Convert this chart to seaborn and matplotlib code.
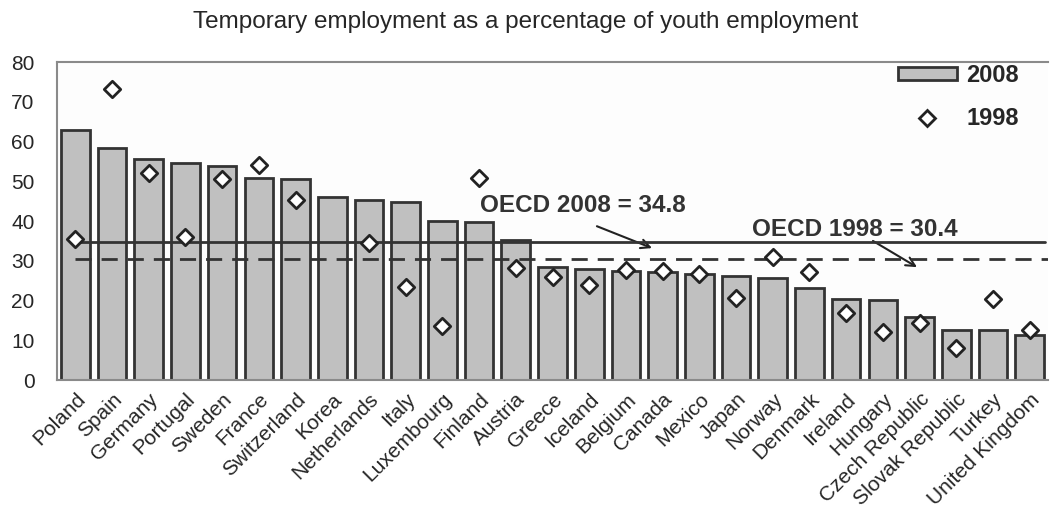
import matplotlib
matplotlib.use("Agg")
import matplotlib.pyplot as plt
from matplotlib.patches import Patch
from matplotlib.lines import Line2D
import seaborn as sns
import pandas as pd
import numpy as np

countries = ["Poland", "Spain", "Germany", "Portugal", "Sweden", "France", "Switzerland",
             "Korea", "Netherlands", "Italy", "Luxembourg", "Finland", "Austria", "Greece",
             "Iceland", "Belgium", "Canada", "Mexico", "Japan", "Norway", "Denmark",
             "Ireland", "Hungary", "Czech Republic", "Slovak Republic", "Turkey", "United Kingdom"]
val_2008 = [62.9, 58.4, 55.6, 54.7, 53.9, 50.9, 50.7, 46.0, 45.3, 44.8, 40.0, 39.8, 35.2,
            28.4, 27.9, 27.5, 27.3, 26.6, 26.1, 25.7, 23.1, 20.3, 20.1, 15.8, 12.7, 12.6, 11.3]
val_1998 = [35.5, 73.2, 52.2, 36.1, 50.6, 54.0, 45.3, np.nan, 34.4, 23.5, 13.6, 50.9, 28.3,
            25.8, 23.9, 27.8, 27.5, 26.7, 20.7, 30.9, 27.3, 16.9, 12.2, 14.3, 8.1, 20.5, 12.7]
oecd_2008 = 34.8
oecd_1998 = 30.4
yticks = [0, 10, 20, 30, 40, 50, 60, 70, 80]

df = pd.DataFrame({"country": countries, "v2008": val_2008, "v1998": val_1998})

sns.set_style("white")
plt.rcParams['font.family'] = ['Liberation Sans', 'DejaVu Sans']

fig = plt.figure(figsize=(10.51, 5.09), dpi=100)
ax = fig.add_axes([0.0542, 0.2534, 0.943, 0.6246])
ax.set_facecolor("#fdfdfd")

sns.barplot(data=df, x="country", y="v2008", ax=ax, color="#c0c0c0",
            edgecolor="#333333", linewidth=2, width=0.78, saturation=1)
sns.scatterplot(data=df, x="country", y="v1998", ax=ax, marker="D", s=70,
                color="white", edgecolor="#222222", linewidth=2, zorder=5, legend=False)

n = len(countries)
ax.plot([0, n - 0.58], [oecd_2008, oecd_2008], color="#333333", lw=2, zorder=4)
ax.plot([0, n - 0.5], [oecd_1998, oecd_1998], color="#333333", lw=2,
        dashes=(5.8, 3.6), zorder=4)

lab_kw = dict(fontsize=17.5, fontweight="bold", color="#333333", ha="left", va="center")
ax.text(11.03, 43.8, "OECD 2008 = 34.8", **lab_kw)
ax.text(18.44, 38.0, "OECD 1998 = 30.4", **lab_kw)
arr = dict(arrowstyle="->", color="#222222", lw=1.5, shrinkA=0, shrinkB=0, mutation_scale=16)
ax.annotate("", xy=(15.71, 33.2), xytext=(14.21, 38.7), arrowprops=arr)
ax.annotate("", xy=(22.93, 28.4), xytext=(21.73, 35.0), arrowprops=arr)

ax.set_xlim(-0.5, n - 0.5)
ax.set_ylim(0, 80)
ax.set_yticks(yticks)
ax.tick_params(axis="y", labelsize=15, length=0, pad=16)
ax.tick_params(axis="x", labelsize=15, length=0, pad=7)
plt.setp(ax.get_xticklabels(), rotation=45, ha="right", rotation_mode="anchor")
ax.set_xlabel("")
ax.set_ylabel("")

for s in ["top", "left", "bottom", "right"]:
    ax.spines[s].set_color("#8a8a8a")
    ax.spines[s].set_linewidth(1.5)
ax.spines["right"].set_visible(False)

handles = [Patch(facecolor="#c0c0c0", edgecolor="#333333", linewidth=2),
           Line2D([], [], marker="D", linestyle="none", markersize=8,
                  markerfacecolor="white", markeredgecolor="#222222", markeredgewidth=2)]
ax.legend(handles, ["2008", "1998"], loc="upper right", frameon=False,
          prop={"weight": "bold", "size": 17}, handlelength=2.5, handleheight=0.45,
          labelspacing=0.85, borderaxespad=0.0, handletextpad=0.4,
          bbox_to_anchor=(0.98, 1.023))

fig.text(0.5, 0.957, "Temporary employment as a percentage of youth employment",
         ha="center", va="center", fontsize=17.5)

fig.savefig("out.png", dpi=100)
